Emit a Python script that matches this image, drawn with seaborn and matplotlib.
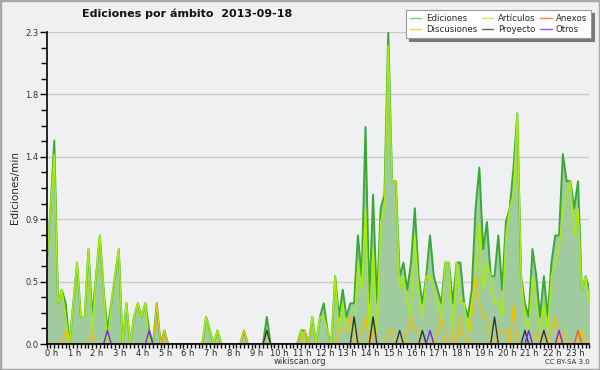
import numpy as np
import pandas as pd
import seaborn as sns
import matplotlib
matplotlib.use("Agg")
import matplotlib.pyplot as plt
import matplotlib.transforms as mtransforms
from matplotlib.lines import Line2D
from matplotlib.patches import Rectangle

# 10-minute buckets, edits per minute, 2013-09-18
ediciones = [
    0.6, 1.0, 1.5, 0.3, 0.4, 0.3, 0.0, 0.3, 0.6, 0.2, 0.2, 0.7,
    0.2, 0.5, 0.8, 0.4, 0.1, 0.3, 0.5, 0.7, 0.0, 0.3, 0.0, 0.2,
    0.3, 0.2, 0.3, 0.1, 0.0, 0.3, 0.0, 0.1, 0.0, 0.0, 0.0, 0.0,
    0.0, 0.0, 0.0, 0.0, 0.0, 0.0, 0.2, 0.1, 0.0, 0.1, 0.0, 0.0,
    0.0, 0.0, 0.0, 0.0, 0.1, 0.0, 0.0, 0.0, 0.0, 0.0, 0.2, 0.0,
    0.0, 0.0, 0.0, 0.0, 0.0, 0.0, 0.0, 0.1, 0.1, 0.0, 0.2, 0.0,
    0.2, 0.3, 0.1, 0.0, 0.5, 0.2, 0.4, 0.2, 0.3, 0.3, 0.8, 0.5,
    1.6, 0.3, 1.1, 0.3, 1.0, 1.1, 2.3, 1.2, 1.2, 0.5, 0.6, 0.4,
    0.6, 1.0, 0.5, 0.3, 0.5, 0.8, 0.5, 0.4, 0.3, 0.6, 0.6, 0.3,
    0.6, 0.6, 0.3, 0.2, 0.4, 1.0, 1.3, 0.7, 0.9, 0.5, 0.5, 0.8,
    0.4, 0.9, 1.0, 1.3, 1.7, 0.5, 0.3, 0.2, 0.7, 0.5, 0.2, 0.5,
    0.2, 0.6, 0.8, 0.8, 1.4, 1.2, 1.2, 1.0, 1.2, 0.4, 0.5, 0.4,
]
articulos = [
    0.6, 1.0, 1.4, 0.3, 0.4, 0.2, 0.0, 0.3, 0.6, 0.2, 0.2, 0.7,
    0.1, 0.5, 0.8, 0.4, 0.0, 0.3, 0.5, 0.7, 0.0, 0.3, 0.0, 0.2,
    0.3, 0.2, 0.3, 0.0, 0.0, 0.0, 0.0, 0.0, 0.0, 0.0, 0.0, 0.0,
    0.0, 0.0, 0.0, 0.0, 0.0, 0.0, 0.2, 0.1, 0.0, 0.1, 0.0, 0.0,
    0.0, 0.0, 0.0, 0.0, 0.0, 0.0, 0.0, 0.0, 0.0, 0.0, 0.1, 0.0,
    0.0, 0.0, 0.0, 0.0, 0.0, 0.0, 0.0, 0.1, 0.0, 0.0, 0.2, 0.0,
    0.2, 0.2, 0.1, 0.0, 0.5, 0.1, 0.3, 0.1, 0.1, 0.1, 0.6, 0.4,
    1.0, 0.1, 0.7, 0.1, 0.9, 1.0, 2.2, 1.2, 1.2, 0.4, 0.5, 0.3,
    0.2, 0.8, 0.4, 0.2, 0.5, 0.5, 0.4, 0.3, 0.2, 0.6, 0.6, 0.1,
    0.6, 0.3, 0.3, 0.1, 0.3, 0.5, 0.9, 0.4, 0.6, 0.5, 0.3, 0.3,
    0.2, 0.8, 1.0, 1.1, 1.7, 0.5, 0.2, 0.1, 0.5, 0.3, 0.1, 0.3,
    0.1, 0.5, 0.6, 0.7, 1.0, 1.1, 1.2, 0.8, 1.0, 0.4, 0.5, 0.3,
]
discusiones = [
    0, 0, 0, 0, 0, 0.1, 0, 0, 0, 0, 0, 0,
    0.1, 0, 0, 0, 0, 0, 0, 0, 0, 0, 0, 0,
    0, 0, 0, 0, 0, 0.3, 0, 0.1, 0, 0, 0, 0,
    0, 0, 0, 0, 0, 0, 0, 0, 0, 0, 0, 0,
    0, 0, 0, 0, 0.1, 0, 0, 0, 0, 0, 0, 0,
    0, 0, 0, 0, 0, 0, 0, 0, 0.1, 0, 0, 0,
    0, 0, 0, 0, 0, 0.1, 0.1, 0.1, 0.2, 0, 0, 0.1,
    0.2, 0, 0.1, 0, 0, 0, 0.1, 0.1, 0, 0, 0, 0.1,
    0.2, 0.1, 0.1, 0, 0, 0, 0, 0.1, 0.2, 0, 0, 0.1,
    0, 0.2, 0, 0, 0.2, 0.5, 0.3, 0.2, 0.2, 0, 0, 0.1,
    0.1, 0.1, 0, 0.3, 0, 0, 0, 0, 0, 0.1, 0, 0.1,
    0, 0.1, 0.2, 0, 0.1, 0, 0, 0, 0, 0.1, 0, 0,
]
proyecto = [
    0, 0, 0, 0, 0, 0, 0, 0, 0, 0, 0, 0,
    0, 0, 0, 0, 0, 0, 0, 0, 0, 0, 0, 0,
    0, 0, 0, 0, 0, 0, 0, 0, 0, 0, 0, 0,
    0, 0, 0, 0, 0, 0, 0, 0, 0, 0, 0, 0,
    0, 0, 0, 0, 0, 0, 0, 0, 0, 0, 0.1, 0,
    0, 0, 0, 0, 0, 0, 0, 0, 0, 0, 0, 0,
    0, 0, 0, 0, 0, 0, 0, 0, 0, 0.2, 0, 0,
    0, 0, 0.2, 0, 0, 0, 0, 0, 0, 0.1, 0, 0,
    0, 0, 0, 0.1, 0, 0, 0, 0, 0, 0, 0, 0,
    0, 0, 0, 0, 0, 0, 0, 0, 0, 0, 0.2, 0,
    0, 0, 0, 0, 0, 0, 0.1, 0, 0, 0, 0, 0.1,
    0, 0, 0, 0, 0, 0, 0, 0, 0, 0, 0, 0,
]
otros = [
    0, 0, 0, 0, 0, 0, 0, 0, 0, 0, 0, 0,
    0, 0, 0, 0, 0.1, 0, 0, 0, 0, 0, 0, 0,
    0, 0, 0, 0.1, 0, 0, 0, 0, 0, 0, 0, 0,
    0, 0, 0, 0, 0, 0, 0, 0, 0, 0, 0, 0,
    0, 0, 0, 0, 0, 0, 0, 0, 0, 0, 0, 0,
    0, 0, 0, 0, 0, 0, 0, 0, 0, 0, 0, 0,
    0, 0, 0, 0, 0, 0, 0, 0, 0, 0, 0, 0,
    0, 0, 0, 0, 0, 0, 0, 0, 0, 0, 0, 0,
    0, 0, 0, 0, 0, 0.1, 0, 0, 0, 0, 0, 0,
    0, 0, 0, 0, 0, 0, 0, 0, 0, 0, 0, 0,
    0, 0, 0, 0, 0, 0, 0, 0.1, 0, 0, 0, 0,
    0, 0, 0, 0.1, 0, 0, 0, 0, 0, 0, 0, 0,
]
anexos = [
    0, 0, 0, 0, 0, 0, 0, 0, 0, 0, 0, 0,
    0, 0, 0, 0, 0, 0, 0, 0, 0, 0, 0, 0,
    0, 0, 0, 0, 0, 0, 0, 0, 0, 0, 0, 0,
    0, 0, 0, 0, 0, 0, 0, 0, 0, 0, 0, 0,
    0, 0, 0, 0, 0, 0, 0, 0, 0, 0, 0, 0,
    0, 0, 0, 0, 0, 0, 0, 0, 0, 0, 0, 0,
    0, 0, 0, 0, 0, 0, 0, 0, 0, 0, 0, 0,
    0, 0, 0, 0, 0, 0, 0, 0, 0, 0, 0, 0,
    0, 0, 0, 0, 0, 0, 0, 0, 0, 0, 0, 0,
    0, 0, 0, 0, 0, 0, 0, 0, 0, 0, 0, 0,
    0, 0, 0, 0, 0, 0, 0, 0, 0, 0, 0, 0,
    0, 0, 0, 0, 0, 0, 0, 0, 0.1, 0, 0, 0,
]
hour_labels = [f"{h} h" for h in range(24)]
ytick_values = [0.0, 0.46, 0.92, 1.38, 1.84, 2.3]

df = pd.DataFrame({
    "t": np.arange(len(ediciones)),
    "Ediciones": ediciones,
    "Artículos": articulos,
    "Discusiones": discusiones,
    "Proyecto": proyecto,
    "Otros": otros,
    "Anexos": anexos,
})

sns.set_style("white")
plt.rcParams["font.family"] = ["DejaVu Sans"]

fig = plt.figure(figsize=(6, 3.7), dpi=100, facecolor="#f0f0f0")
ax = fig.add_axes([46.7 / 600, 26 / 370, (589.4 - 46.7) / 600, 312 / 370])
ax.set_facecolor("#eef0f2")

ax.fill_between(df["t"], df["Ediciones"], color="#9fcb9f", lw=0, zorder=1)
line_colors = {
    "Ediciones": "#3aa837",
    "Artículos": "#aaee00",
    "Discusiones": "#f5c000",
    "Proyecto": "#333333",
    "Otros": "#7a22ee",
    "Anexos": "#ff5a1f",
}
widths = {"Ediciones": 1.4, "Artículos": 1.1}
for name in ["Ediciones", "Artículos", "Discusiones", "Proyecto", "Otros", "Anexos"]:
    sns.lineplot(data=df, x="t", y=name, color=line_colors[name],
                 lw=widths.get(name, 1.0), ax=ax, legend=False, zorder=2)

ax.set_xlim(0, len(ediciones) - 1)
ax.set_ylim(0, 2.3)
ax.set_xlabel("")
ax.set_ylabel("Ediciones/min", fontsize=7.5, labelpad=4)

# axes look
for side in ["top", "right"]:
    ax.spines[side].set_visible(False)
for side in ["left", "bottom"]:
    ax.spines[side].set_color("black")
    ax.spines[side].set_linewidth(1.2)
    ax.spines[side].set_zorder(5)

ax.set_xticks(np.arange(0, 144, 6))
ax.set_xticklabels(hour_labels, fontsize=6)
ax.set_xticks(np.arange(0, 144, 1), minor=True)
ax.tick_params(axis="x", which="both", direction="out", length=3, width=1,
               color="black", pad=0.5, bottom=True)
offset = mtransforms.ScaledTranslation(3.5 / 72, 0, fig.dpi_scale_trans)
for lab in ax.get_xticklabels():
    lab.set_transform(lab.get_transform() + offset)

ax.set_yticks(ytick_values)
ax.set_yticklabels([f"{v:.1f}" for v in ytick_values], fontsize=6, color="#333333")
ax.set_yticks(np.arange(0, 2.31, 0.115), minor=True)
ax.tick_params(axis="y", which="major", direction="out", length=5, width=1,
               color="black", pad=1, left=True)
ax.tick_params(axis="y", which="minor", direction="out", length=4, width=1,
               color="black", left=True)
ax.yaxis.grid(True, which="major", color="#cccccc", lw=1)
ax.xaxis.grid(False)
ax.set_axisbelow(True)

# legend
leg_colors = ["#80c880", "#ffd040", "#c8ee50", "#606060", "#ff7f50", "#9955ee"]
leg_names = ["Ediciones", "Discusiones", "Artículos", "Proyecto", "Anexos", "Otros"]
handles = [Line2D([0], [0], color=c, lw=1) for c in leg_colors]
leg = fig.legend(handles, leg_names, loc="upper right",
                 bbox_to_anchor=(591 / 600, 1 - 10 / 370), ncol=3, fontsize=6.2,
                 frameon=True, fancybox=False,
                 shadow={"color": "#777777", "alpha": 1},
                 handlelength=1.3, columnspacing=0.6, labelspacing=0.3,
                 borderpad=0.45, handletextpad=0.5, borderaxespad=0)
leg.get_frame().set_edgecolor("#999999")
leg.get_frame().set_facecolor("white")
leg.get_frame().set_linewidth(0.8)

fig.text(0.312, 1 - 14 / 370, "Ediciones por ámbito  2013-09-18", ha="center",
         va="center", fontsize=8, fontweight="bold", color="#111111")
fig.text(0.5, 1 - 362 / 370, "wikiscan.org", ha="center", va="center",
         fontsize=6, color="#333333")
fig.text(0.983, 1 - 362 / 370, "CC BY-SA 3.0", ha="right", va="center",
         fontsize=5, color="#333333")

fig.patches.append(Rectangle((0, 0), 1, 1, transform=fig.transFigure, fill=False,
                             edgecolor="#a8a8a8", lw=2.5))

fig.savefig("out.png", dpi=100, facecolor=fig.get_facecolor())
